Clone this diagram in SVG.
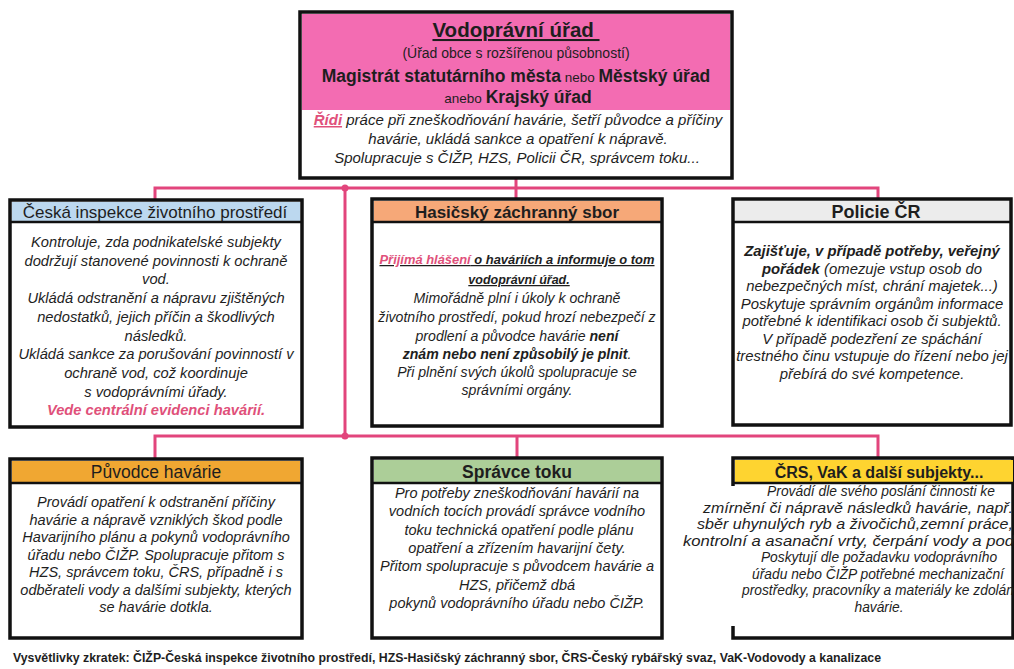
<svg xmlns="http://www.w3.org/2000/svg" width="1014" height="669" viewBox="0 0 1014 669">
<style>
text{font-family:"Liberation Sans",Arial,sans-serif;fill:#1e1e1e}
.m{text-anchor:middle}
.b{font-style:italic;text-anchor:middle}
.bb{font-weight:bold}
.pk{fill:#e0507a}
.u{text-decoration:underline}
.h{font-size:17px;text-anchor:middle}
.box{fill:#fff;stroke:#111;stroke-width:3.5}
.sep{stroke:#111;stroke-width:2.5}
.con{fill:none;stroke:#e2457c;stroke-width:3}
</style>
<rect width="1014" height="669" fill="#fff"/>
<g id="connectors">
<path class="con" d="M516 178V200M155 200V188H878V200"/>
<path class="con" d="M345 188V436" stroke-width="4"/>
<path class="con" d="M155 458V436H878V458M517 436V458"/>
<circle cx="345" cy="188" r="3.5" fill="#e2457c"/>
<circle cx="345" cy="436" r="3.5" fill="#e2457c"/>
</g>
<g id="vodopravni-urad">
<rect x="300" y="12" width="432" height="166" class="box"/>
<rect x="302" y="14" width="428" height="96" fill="#f36cb2"/>
<text x="516" y="37" class="m bb u" font-size="20.5">Vodoprávní úřad&#160;</text>
<text x="516" y="58" class="m" font-size="14">(Úřad obce s rozšířenou působností)</text>
<text x="516" y="82" class="m" font-size="17.5"><tspan class="bb">Magistrát statutárního města</tspan><tspan font-size="13.5"> nebo </tspan><tspan class="bb">Městský úřad</tspan></text>
<text x="518" y="103" class="m" font-size="17.5"><tspan font-size="13.5">anebo </tspan><tspan class="bb">Krajský úřad</tspan></text>
<text x="518" y="125" class="b" font-size="15"><tspan class="pk bb u">Řídi</tspan> práce při zneškodňování havárie, šetří původce a příčiny</text>
<text x="518" y="144" class="b" font-size="15">havárie, ukládá sankce a opatření k nápravě.</text>
<text x="517" y="163" class="b" font-size="15">Spolupracuje s ČIŽP, HZS, Policii ČR, správcem toku...</text>
</g>
<g id="cizp" font-size="14.7">
<rect x="10" y="200" width="292" height="227" class="box"/>
<rect x="12" y="202" width="288" height="20" fill="#bcd8ef"/>
<line x1="10" y1="222" x2="302" y2="222" class="sep"/>
<text x="155" y="217.5" class="h">Česká inspekce životního prostředí</text>
<text x="156" y="247" class="b">Kontroluje, zda podnikatelské subjekty</text>
<text x="156" y="265.7" class="b">dodržují stanovené povinnosti k ochraně</text>
<text x="156" y="284.4" class="b">vod.</text>
<text x="156" y="303" class="b">Ukládá odstranění a nápravu zjištěných</text>
<text x="156" y="321.8" class="b">nedostatků, jejich příčin a škodlivých</text>
<text x="156" y="340.5" class="b">následků.</text>
<text x="156" y="359.2" class="b">Ukládá sankce za porušování povinností v</text>
<text x="156" y="377.9" class="b">ochraně vod, což koordinuje</text>
<text x="156" y="396.6" class="b">s vodoprávními úřady.</text>
<text x="156" y="415.3" class="b bb pk">Vede centrální evidenci havárií.</text>
</g>
<g id="hzs" font-size="14.1">
<rect x="372" y="199" width="290" height="227" class="box"/>
<rect x="374" y="201" width="286" height="21" fill="#f6a878"/>
<line x1="372" y1="222" x2="662" y2="222" class="sep"/>
<text x="517" y="217.5" class="h bb">Hasičský záchranný sbor</text>
<text x="517" y="264" class="b bb u" font-size="12.5" textLength="275" lengthAdjust="spacingAndGlyphs"><tspan class="pk">Přijímá hlášení</tspan> o haváriích a informuje o tom</text>
<text x="519" y="284" class="b bb u" font-size="12.5">vodoprávní úřad.</text>
<text x="517" y="303" class="b">Mimořádně plní i úkoly k ochraně</text>
<text x="517" y="322" class="b">životního prostředí, pokud hrozí nebezpečí z</text>
<text x="517" y="341" class="b">prodlení a původce havárie <tspan class="bb">není</tspan></text>
<text x="517" y="359" class="b"><tspan class="bb">znám nebo není způsobilý je plnit</tspan>.</text>
<text x="517" y="377" class="b">Při plnění svých úkolů spolupracuje se</text>
<text x="517" y="395" class="b">správními orgány.</text>
</g>
<g id="policie" font-size="14.9">
<rect x="733" y="199" width="278" height="226" class="box"/>
<rect x="735" y="201" width="274" height="21" fill="#ececec"/>
<line x1="733" y1="222" x2="1011" y2="222" class="sep"/>
<text x="876" y="217.5" class="h bb" style="font-size:18px">Policie ČR</text>
<text x="872" y="256" class="b bb">Zajišťuje, v případě potřeby, veřejný</text>
<text x="872" y="273.5" class="b"><tspan class="bb">pořádek</tspan>  (omezuje vstup osob do</text>
<text x="872" y="291" class="b">nebezpečných míst, chrání majetek...)</text>
<text x="872" y="308.5" class="b">Poskytuje správním orgánům informace</text>
<text x="872" y="326" class="b">potřebné k identifikaci osob či subjektů.</text>
<text x="872" y="343.5" class="b">V případě podezření ze spáchání</text>
<text x="872" y="361" class="b">trestného činu vstupuje do řízení nebo jej</text>
<text x="872" y="378.5" class="b">přebírá do své kompetence.</text>
</g>
<g id="puvodce" font-size="14.5">
<rect x="10" y="459" width="292" height="179" class="box"/>
<rect x="12" y="461" width="288" height="22" fill="#f0a732"/>
<line x1="10" y1="483" x2="302" y2="483" class="sep"/>
<text x="156" y="478" class="h" style="font-size:17.5px">Původce havárie</text>
<text x="156" y="507" class="b">Provádí opatření k odstranění příčiny</text>
<text x="156" y="524.5" class="b">havárie a nápravě vzniklých škod podle</text>
<text x="156" y="542" class="b">Havarijního plánu a pokynů vodoprávního</text>
<text x="156" y="559.5" class="b">úřadu nebo ČIŽP. Spolupracuje přitom s</text>
<text x="156" y="577" class="b">HZS, správcem toku, ČRS, případně i s</text>
<text x="156" y="594.5" class="b">odběrateli vody a dalšími subjekty, kterých</text>
<text x="156" y="612" class="b">se havárie dotkla.</text>
</g>
<g id="spravce-toku" font-size="14.5">
<rect x="372" y="458" width="290" height="180" class="box"/>
<rect x="374" y="460" width="286" height="23" fill="#acce98"/>
<line x1="372" y1="483" x2="662" y2="483" class="sep"/>
<text x="517" y="478" class="h bb" style="font-size:17.5px">Správce toku</text>
<text x="517" y="498" class="b">Pro potřeby zneškodňování havárií na</text>
<text x="517" y="516.3" class="b">vodních tocích provádí správce vodního</text>
<text x="519" y="534.6" class="b">toku technická opatření podle plánu</text>
<text x="517" y="552.9" class="b">opatření a zřízením havarijní čety.</text>
<text x="517" y="571.2" class="b">Přitom spolupracuje s původcem  havárie a</text>
<text x="517" y="589.5" class="b">HZS, přičemž dbá</text>
<text x="517" y="607.8" class="b">pokynů vodoprávního úřadu nebo ČIŽP.</text>
</g>
<g id="crs-vak" font-size="13.8">
<rect x="733" y="458" width="280" height="180" class="box"/>
<rect x="735" y="460" width="278" height="23" fill="#fed430"/>
<line x1="733" y1="483" x2="1014" y2="483" class="sep"/>
<rect x="728" y="486" width="10" height="140" fill="#fff"/>
<text x="879" y="478" class="h bb" style="font-size:16px">ČRS, VaK a další subjekty...</text>
<text x="881" y="496" class="b">Provádí dle svého poslání činnosti ke</text>
<text x="703" y="512.5" class="b" style="text-anchor:start;font-size:14.5px" textLength="310" lengthAdjust="spacingAndGlyphs">zmírnění či nápravě následků havárie, např.</text>
<text x="697" y="529" class="b" style="text-anchor:start;font-size:14.5px" textLength="316" lengthAdjust="spacingAndGlyphs">sběr uhynulých ryb a živočichů,zemní práce,</text>
<text x="683" y="545.5" class="b" style="text-anchor:start;font-size:14.5px" textLength="331" lengthAdjust="spacingAndGlyphs">kontrolní a asanační vrty, čerpání vody a pod</text>
<text x="879" y="562" class="b">Poskytují dle požadavku vodoprávního</text>
<text x="878" y="578.5" class="b">úřadu nebo ČIŽP potřebné mechanizační</text>
<text x="742" y="595" class="b" style="text-anchor:start">prostředky, pracovníky  a materiály ke zdolán</text>
<text x="879" y="611.5" class="b">havárie.</text>
</g>
<text x="13" y="662" font-size="12" font-weight="bold" textLength="868" lengthAdjust="spacingAndGlyphs" fill="#222">Vysvětlivky zkratek: ČIŽP-Česká inspekce životního prostředí, HZS-Hasičský záchranný sbor, ČRS-Český rybářský svaz, VaK-Vodovody a kanalizace</text>
</svg>
